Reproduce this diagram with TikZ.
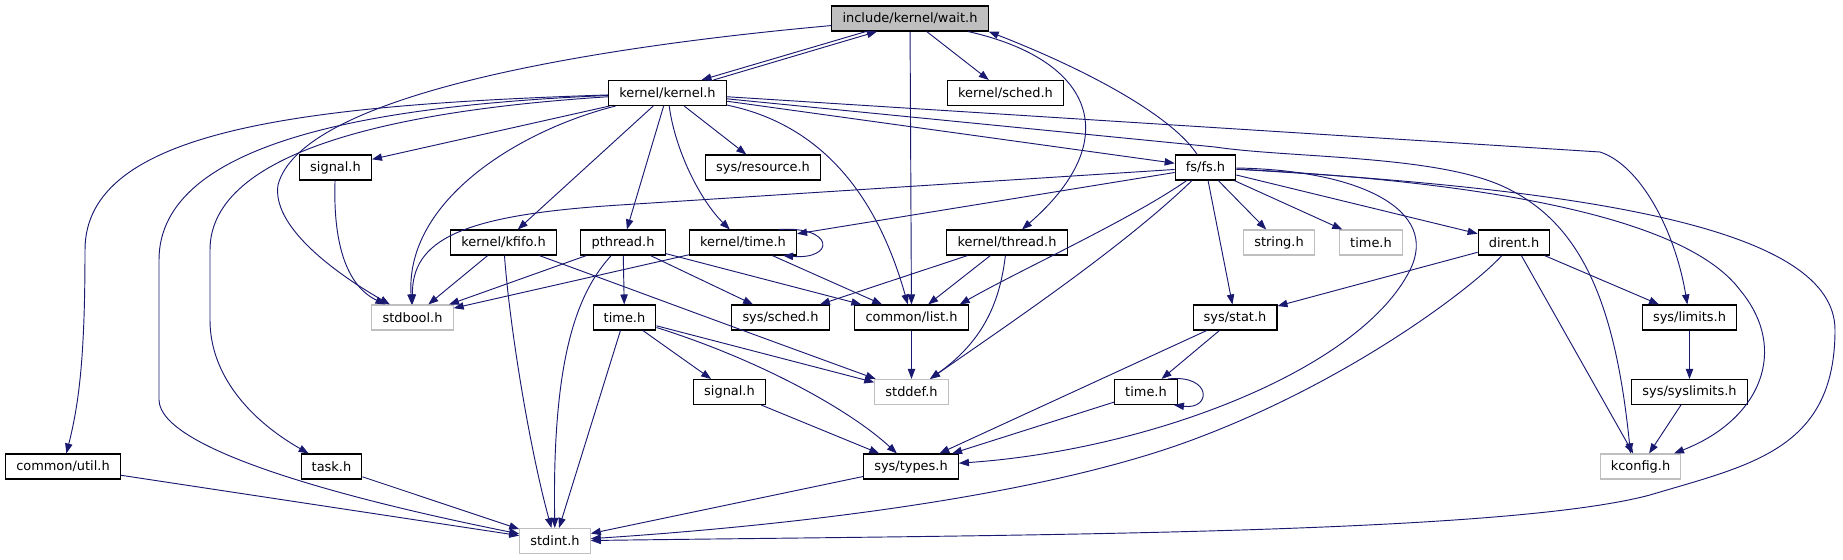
\documentclass[tikz,border=0pt]{standalone}
\usepackage{fontspec}
\setmainfont{DejaVu Sans}
\usetikzlibrary{arrows.meta, calc}
\definecolor{edgeblue}{HTML}{191970}
\definecolor{gray75}{HTML}{BFBFBF}

\begin{document}
\begin{tikzpicture}[
        x=0.75pt, y=-0.75pt,
        file/.style={draw=black, fill=white, line width=0.8pt, minimum height=18.75pt,
            inner xsep=8pt, inner ysep=0pt, font=\fontsize{9.7}{11}\selectfont},
        sysfile/.style={file, draw=gray75},
        current/.style={file, fill=gray75},
        dep/.style={-{Triangle[length=7.5pt, width=5.5pt]}, draw=edgeblue, line width=0.7pt}
    ]
        \useasboundingbox (0,0) rectangle (1843,560);

        % Nodes
        \node[current] (wait) at (910,18.5) {include/kernel/wait.h};
        \node[file] (kernel) at (667.5,93) {kernel/kernel.h};
        \node[file] (ksched) at (1005.5,93) {kernel/sched.h};
        \node[file] (signalA) at (335.5,167.5) {signal.h};
        \node[file] (resource) at (763,167.5) {sys/resource.h};
        \node[file] (fs) at (1205.5,167.5) {fs/fs.h};
        \node[file] (kfifo) at (503.5,242.5) {kernel/kfifo.h};
        \node[file] (pthread) at (623,242.5) {pthread.h};
        \node[file] (ktime) at (743,242.5) {kernel/time.h};
        \node[file] (kthread) at (1007,242.5) {kernel/thread.h};
        \node[sysfile] (string) at (1279,242.5) {string.h};
        \node[sysfile] (timeA) at (1371,242.5) {time.h};
        \node[file] (dirent) at (1514,242.5) {dirent.h};
        \node[sysfile] (stdbool) at (412.5,317.5) {stdbool.h};
        \node[file] (timeB) at (624.5,317.5) {time.h};
        \node[file] (ssched) at (780.5,317.5) {sys/sched.h};
        \node[file] (list) at (911.5,317.5) {common/list.h};
        \node[file] (stat) at (1235,317.5) {sys/stat.h};
        \node[file] (limits) at (1689.5,317.5) {sys/limits.h};
        \node[file] (signalB) at (729.5,392) {signal.h};
        \node[sysfile] (stddef) at (911.5,392) {stddef.h};
        \node[file] (timeC) at (1146,392) {time.h};
        \node[file] (syslimits) at (1689.5,392) {sys/syslimits.h};
        \node[file] (util) at (63,466.5) {common/util.h};
        \node[file] (task) at (331.5,466.5) {task.h};
        \node[file] (types) at (911,466.5) {sys/types.h};
        \node[sysfile] (kconfig) at (1640.5,466.5) {kconfig.h};
        \node[sysfile] (stdint) at (555,541) {stdint.h};

        % wait.h
        \draw[dep] ($(wait.south)+(-44,0)$) -- ($(kernel.north)+(34,0)$);
        \draw[dep] ($(kernel.north)+(46,0)$) -- ($(wait.south)+(-33,0)$);
        \draw[dep] (wait) .. controls (560,50) and (300,100) .. (278,185) .. controls (272,225) and (330,270) .. (stdbool);
        \draw[dep] (wait) -- (list);
        \draw[dep] (wait) -- (ksched);
        \draw[dep] (wait) .. controls (1095,60) and (1125,140) .. (kthread);

        % kernel/kernel.h
        \draw[dep] (kernel) .. controls (300,105) and (85,130) .. (85,250) .. controls (85,350) and (80,400) .. (util);
        \draw[dep] (kernel) .. controls (380,105) and (159,140) .. (159,260) -- (159,400) .. controls (160,450) and (350,500) .. (stdint);
        \draw[dep] (kernel) .. controls (400,110) and (210,150) .. (210,250) -- (210,320) .. controls (210,375) and (250,420) .. (task);
        \draw[dep] (kernel) -- (signalA);
        \draw[dep] (kernel) .. controls (520,130) and (405,200) .. (stdbool);
        \draw[dep] (kernel) -- (kfifo);
        \draw[dep] (kernel) -- (pthread);
        \draw[dep] (kernel) .. controls (675,150) and (700,200) .. (ktime);
        \draw[dep] (kernel) -- (resource);
        \draw[dep] (kernel) .. controls (800,120) and (870,170) .. (list);
        \draw[dep] (kernel) -- (fs);
        \draw[dep] (kernel) -- (1600,152) .. controls (1640,165) and (1675,230) .. (limits);
        \draw[dep] (kernel) -- (1215,147) .. controls (1290,158) and (1430,155) .. (1500,185) .. controls (1580,220) and (1615,300) .. ($(kconfig.north)+(-10,0)$);

        % fs/fs.h
        \draw[dep] (fs) .. controls (1175,120) and (1100,75) .. (wait.south east);
        \draw[dep] (fs) -- (620,205) .. controls (460,215) and (412,240) .. (stdbool);
        \draw[dep] (fs) -- (ktime);
        \draw[dep] (fs) .. controls (1130,220) and (1020,270) .. ($(list.north east)+(-9,0)$);
        \draw[dep] (fs) .. controls (1120,250) and (1000,330) .. (stddef);
        \draw[dep] (fs) -- (stat);
        \draw[dep] (fs) -- (string);
        \draw[dep] (fs) -- (timeA);
        \draw[dep] (fs) -- (dirent);
        \draw[dep] (fs) .. controls (1360,170) and (1440,210) .. (1410,270) .. controls (1360,370) and (1150,450) .. (types);
        \draw[dep] (fs) .. controls (1450,180) and (1680,210) .. (1740,290) .. controls (1790,350) and (1760,420) .. (kconfig);
        \draw[dep] (fs) .. controls (1600,190) and (1835,230) .. (1835,330) .. controls (1835,450) and (1750,465) .. (1650,495) .. controls (1500,535) and (1000,535) .. (stdint);

        % dirent.h
        \draw[dep] (dirent) -- (stat);
        \draw[dep] (dirent) .. controls (1470,290) and (1350,380) .. (1200,437) .. controls (1050,495) and (800,525) .. (stdint);
        \draw[dep] (dirent) -- (kconfig);
        \draw[dep] (dirent) -- (limits);

        % Middle rows
        \draw[dep] (signalA) .. controls (333,240) and (345,285) .. (stdbool);
        \draw[dep] (kfifo) -- (stdbool);
        \draw[dep] (kfifo) .. controls (510,330) and (530,450) .. (stdint);
        \draw[dep] (kfifo) .. controls (620,285) and (700,315) .. (stddef);
        \draw[dep] (pthread) -- (stdbool);
        \draw[dep] (pthread) .. controls (580,290) and (552,350) .. (stdint);
        \draw[dep] (pthread) -- (timeB);
        \draw[dep] (pthread) -- (ssched);
        \draw[dep] (pthread) -- (list);
        \draw[dep] (ktime) -- (stdbool);
        \draw[dep] (ktime) -- (list);
        \draw[dep] ($(ktime.north east)+(-18,0)$) .. controls (835,226) and (835,260) .. ($(ktime.south east)+(-14,0)$);
        \draw[dep] (kthread) -- (ssched);
        \draw[dep] (kthread) -- (list);
        \draw[dep] (kthread) .. controls (1000,300) and (985,340) .. (stddef);
        \draw[dep] (list) -- (stddef);
        \draw[dep] (timeB) -- (signalB);
        \draw[dep] (timeB) .. controls (760,360) and (850,410) .. (types);
        \draw[dep] (timeB) -- (stddef);
        \draw[dep] (timeB) -- (stdint);
        \draw[dep] (signalB) -- (types);
        \draw[dep] (stat) -- (timeC);
        \draw[dep] (stat) -- (types);
        \draw[dep] (timeC) -- (types);
        \draw[dep] ($(timeC.north east)+(-10,0)$) .. controls (1212,374) and (1212,410) .. ($(timeC.south east)+(-4,0)$);
        \draw[dep] (limits) -- (syslimits);
        \draw[dep] (syslimits) -- (kconfig);

        % Bottom row
        \draw[dep] (util) -- (stdint);
        \draw[dep] (task) -- (stdint);
        \draw[dep] (types) -- (stdint);
    \end{tikzpicture}
\end{document}
